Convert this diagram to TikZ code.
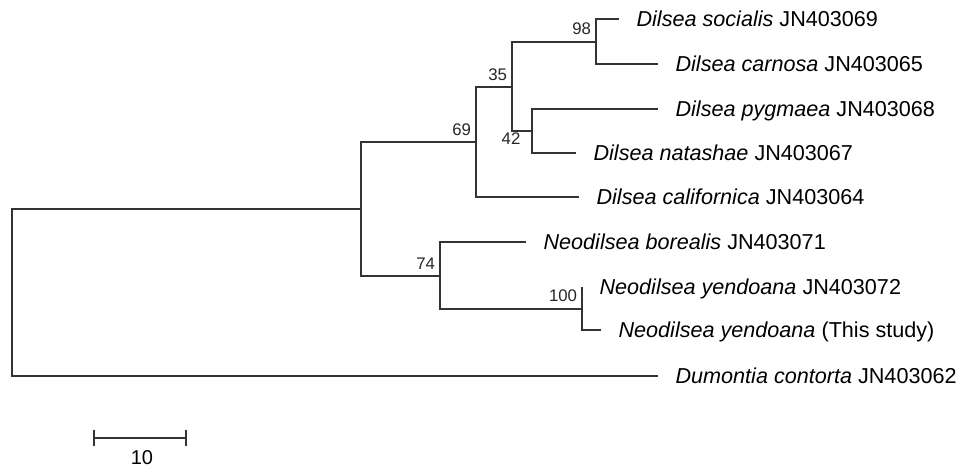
\documentclass[tikz,border=0pt]{standalone}
\usepackage{fontspec}
\setmainfont{Liberation Sans}
\usetikzlibrary{positioning,arrows.meta}
\begin{document}
\begin{tikzpicture}[x=0.75pt, y=-0.75pt,
  branch/.style={line width=1.5pt, draw=black!80},
  taxon/.style={anchor=base west, inner sep=0pt, xshift=13pt, yshift=-5.6pt,
    font=\fontsize{16.2}{18}\selectfont},
  support/.style={anchor=base east, inner sep=0pt, xshift=-3.5pt, yshift=5pt,
    text=black!85, font=\fontsize{12.6}{14}\selectfont},
  supportbelow/.style={support, anchor=north east, xshift=-5pt, yshift=-6pt}]

\useasboundingbox (0,0) rectangle (960,469);

% internal nodes
\coordinate (root) at (12,292.5);
\coordinate (nin) at (361,209);
\coordinate (n69) at (476,142);
\coordinate (n35) at (512,87);
\coordinate (n98) at (596,41.5);
\coordinate (n42) at (532,131);
\coordinate (n74) at (440,276);
\coordinate (n100) at (582,308.5);

% tips
\coordinate (tsoc) at (619,19);
\coordinate (tcar) at (658,64);
\coordinate (tpyg) at (658,109);
\coordinate (tnat) at (576,153);
\coordinate (tcal) at (579,197);
\coordinate (tbor) at (526,242);
\coordinate (tyen) at (582,287);
\coordinate (tstu) at (601,330);
\coordinate (tdum) at (658,376);

% branches
\draw[branch] (root) |- (nin);
\draw[branch] (root) |- (tdum);
\draw[branch] (nin) |- (n69);
\draw[branch] (nin) |- (n74);
\draw[branch] (n69) |- (n35);
\draw[branch] (n69) |- (tcal);
\draw[branch] (n35) |- (n98);
\draw[branch] (n35) |- (n42);
\draw[branch] (n98) |- (tsoc);
\draw[branch] (n98) |- (tcar);
\draw[branch] (n42) |- (tpyg);
\draw[branch] (n42) |- (tnat);
\draw[branch] (n74) |- (tbor);
\draw[branch] (n74) |- (n100);
\draw[branch] (n100) |- (tyen);
\draw[branch] (n100) |- (tstu);

% bootstrap values
\node[support] (b98) at (n98) {98};
\node[support] (b35) at (n35) {35};
\node[support] (b69) at (n69) {69};
\node[supportbelow] (b42) at (n42) {42};
\node[support] (b74) at (n74) {74};
\node[support] (b100) at (n100) {100};

% taxa
\node[taxon] (lsoc) at (tsoc) {\textit{Dilsea socialis} JN403069};
\node[taxon] (lcar) at (tcar) {\textit{Dilsea carnosa} JN403065};
\node[taxon] (lpyg) at (tpyg) {\textit{Dilsea pygmaea} JN403068};
\node[taxon] (lnat) at (tnat) {\textit{Dilsea natashae} JN403067};
\node[taxon] (lcal) at (tcal) {\textit{Dilsea californica} JN403064};
\node[taxon] (lbor) at (tbor) {\textit{Neodilsea borealis} JN403071};
\node[taxon] (lyen) at (tyen) {\textit{Neodilsea yendoana} JN403072};
\node[taxon] (lstu) at (tstu) {\textit{Neodilsea yendoana} (This study)};
\node[taxon] (ldum) at (tdum) {\textit{Dumontia contorta} JN403062};

% scale bar
\coordinate (sbl) at (93,438);
\coordinate (sbr) at (187,438);
\draw[branch, {Bar[width=12pt]}-{Bar[width=12pt]}] (sbl) -- (sbr)
  node[midway, below=9pt, xshift=1.5pt, inner sep=0pt, font=\fontsize{15}{17}\selectfont] (sbt) {10};

\end{tikzpicture}
\end{document}
